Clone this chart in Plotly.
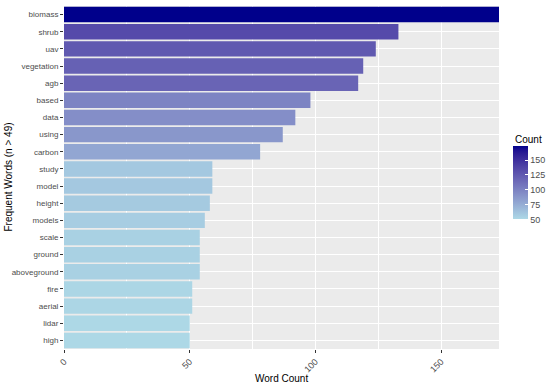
import plotly.graph_objects as go

words = ["biomass", "shrub", "uav", "vegetation", "agb", "based", "data", "using",
         "carbon", "study", "model", "height", "models", "scale", "ground",
         "aboveground", "fire", "aerial", "lidar", "high"]
counts = [173, 133, 124, 119, 117, 98, 92, 87, 78, 59, 59, 58, 56, 54, 54, 54, 51, 51, 50, 50]
x_ticks = [0, 50, 100, 150]
cbar_ticks = [50, 75, 100, 125, 150]


# ggplot-like Lab interpolation between lightblue and darkblue
def srgb_to_lin(c):
    c = c / 255.0
    return c / 12.92 if c <= 0.04045 else ((c + 0.055) / 1.055) ** 2.4


def lin_to_srgb(c):
    c = max(0.0, min(1.0, c))
    v = 12.92 * c if c <= 0.0031308 else 1.055 * c ** (1 / 2.4) - 0.055
    return int(round(v * 255))


def rgb_to_lab(rgb):
    r, g, b = [srgb_to_lin(v) for v in rgb]
    X = 0.4124 * r + 0.3576 * g + 0.1805 * b
    Y = 0.2126 * r + 0.7152 * g + 0.0722 * b
    Z = 0.0193 * r + 0.1192 * g + 0.9505 * b
    Xn, Yn, Zn = 0.95047, 1.0, 1.08883

    def f(t):
        return t ** (1 / 3) if t > 0.008856 else 7.787 * t + 16 / 116
    fx, fy, fz = f(X / Xn), f(Y / Yn), f(Z / Zn)
    return (116 * fy - 16, 500 * (fx - fy), 200 * (fy - fz))


def lab_to_rgb(lab):
    L, a, bb = lab
    fy = (L + 16) / 116
    fx = fy + a / 500
    fz = fy - bb / 200

    def finv(t):
        return t ** 3 if t ** 3 > 0.008856 else (t - 16 / 116) / 7.787
    X, Y, Z = 0.95047 * finv(fx), finv(fy), 1.08883 * finv(fz)
    r = 3.2406 * X - 1.5372 * Y - 0.4986 * Z
    g = -0.9689 * X + 1.8758 * Y + 0.0415 * Z
    b = 0.0557 * X - 0.2040 * Y + 1.0570 * Z
    return (lin_to_srgb(r), lin_to_srgb(g), lin_to_srgb(b))


low = rgb_to_lab((173, 216, 230))
high = rgb_to_lab((0, 0, 139))
n = 20
colorscale = []
for i in range(n + 1):
    t = i / n
    lab = tuple(low[k] + (high[k] - low[k]) * t for k in range(3))
    r, g, b = lab_to_rgb(lab)
    colorscale.append([t, f"rgb({r},{g},{b})"])

font_family = "Liberation Sans, Arial, sans-serif"

W, H = 550, 384
L_M, R_M, T_M, B_M = 64, 51, 6, 35
plot_w = W - L_M - R_M
plot_h = H - T_M - B_M

fig = go.Figure(go.Bar(
    x=counts,
    y=words,
    orientation="h",
    marker=dict(
        color=counts,
        colorscale=colorscale,
        cmin=min(counts),
        cmax=max(counts),
        line=dict(width=0),
        colorbar=dict(
            tickvals=cbar_ticks,
            ticks="inside",
            ticklen=3,
            tickcolor="white",
            tickfont=dict(size=9, color="#4D4D4D"),
            thickness=15,
            len=73,
            lenmode="pixels",
            xref="container",
            yref="container",
            x=513 / W,
            xanchor="left",
            y=1 - 164 / H,
            yanchor="top",
            outlinewidth=0,
            xpad=0,
            ypad=0,
        ),
    ),
    hoverinfo="x+y",
))

fig.update_layout(
    width=W,
    height=H,
    margin=dict(l=L_M, r=R_M, t=T_M, b=B_M, autoexpand=False),
    paper_bgcolor="white",
    plot_bgcolor="#EBEBEB",
    bargap=0.1,
    hovermode=False,
    font=dict(family=font_family),
    showlegend=False,
    xaxis=dict(
        range=[0, 173],
        tickvals=x_ticks,
        tickangle=-45,
        ticks="outside",
        ticklen=3,
        tickcolor="#333333",
        tickfont=dict(size=9, color="#4D4D4D"),
        showgrid=True,
        gridcolor="white",
        gridwidth=1.2,
        minor=dict(dtick=25, tick0=0, showgrid=True, gridcolor="white", gridwidth=0.5),
        zeroline=False,
        showline=False,
        automargin=False,
    ),
    yaxis=dict(
        categoryorder="array",
        categoryarray=list(reversed(words)),
        range=[-0.5, len(words) - 0.5],
        ticks="outside",
        ticklen=3,
        tickcolor="#333333",
        tickfont=dict(size=8, color="#4D4D4D"),
        showgrid=True,
        gridcolor="white",
        gridwidth=1.2,
        zeroline=False,
        showline=False,
        automargin=False,
    ),
    annotations=[
        dict(text="Word Count", xref="paper", yref="paper", x=0.5, y=0,
             yshift=-22, xanchor="center", yanchor="top", showarrow=False,
             font=dict(size=10, color="#000000")),
        dict(text="Frequent Words (n > 49)", xref="paper", yref="paper",
             x=(8 - L_M) / plot_w, y=0.5, xanchor="center", yanchor="middle",
             textangle=-90, showarrow=False, font=dict(size=10, color="#000000")),
        dict(text="Count", xref="paper", yref="paper",
             x=(513 - L_M) / plot_w, y=(H - B_M - 132) / plot_h,
             xanchor="left", yanchor="top", showarrow=False,
             font=dict(size=10, color="#000000")),
    ],
)

fig.write_html("out.html", config={"displayModeBar": False},
               post_script="document.body.style.margin='0';")
